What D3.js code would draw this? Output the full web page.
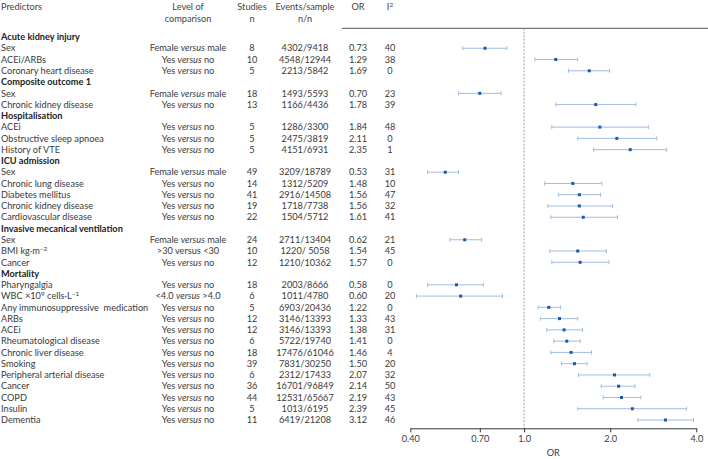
<!DOCTYPE html>
<html>
<head>
<meta charset="utf-8">
<script src="https://cdn.jsdelivr.net/npm/d3@7/dist/d3.min.js"></script>
<style>
  html, body { margin: 0; padding: 0; background: #fff; }
  svg text { font-family: Lato, "Open Sans", sans-serif; }
</style>
</head>
<body>
<svg id="chart" width="708" height="459"></svg>
<script>
// ---------------- DATA ----------------
const groupNames = ["Acute kidney injury", "Composite outcome 1", "Hospitalisation",
  "ICU admission", "Invasive mecanical ventilation", "Mortality"];
const groupSizes = [3, 2, 3, 5, 3, 13];

const predictors = [
  "Sex", "ACEi/ARBs", "Coronary heart disease",
  "Sex", "Chronic kidney disease",
  "ACEi", "Obstructive sleep apnoea", "History of VTE",
  "Sex", "Chronic lung disease", "Diabetes mellitus", "Chronic kidney disease", "Cardiovascular disease",
  "Sex", "BMI kg·m^−2", "Cancer",
  "Pharyngalgia", "WBC ×10^9 cells·L^−1", "Any immunosuppressive  medication", "ARBs", "ACEi",
  "Rheumatological disease", "Chronic liver disease", "Smoking", "Peripheral arterial disease",
  "Cancer", "COPD", "Insulin", "Dementia"
];
const comparisons = [
  "Female versus male", "Yes versus no", "Yes versus no",
  "Female versus male", "Yes versus no",
  "Yes versus no", "Yes versus no", "Yes versus no",
  "Female versus male", "Yes versus no", "Yes versus no", "Yes versus no", "Yes versus no",
  "Female versus male", ">30 versus <30", "Yes versus no",
  "Yes versus no", "<4.0 versus >4.0", "Yes versus no", "Yes versus no", "Yes versus no",
  "Yes versus no", "Yes versus no", "Yes versus no", "Yes versus no",
  "Yes versus no", "Yes versus no", "Yes versus no", "Yes versus no"
];
const studies = [8, 10, 5, 18, 13, 5, 5, 5, 49, 14, 41, 19, 22, 24, 10, 12,
  18, 6, 5, 12, 12, 6, 18, 39, 6, 36, 44, 5, 11];
const events = [
  "4302/9418", "4548/12944", "2213/5842",
  "1493/5593", "1166/4436",
  "1286/3300", "2475/3819", "4151/6931",
  "3209/18789", "1312/5209", "2916/14508", "1718/7738", "1504/5712",
  "2711/13404", "1220/ 5058", "1210/10362",
  "2003/8666", "1011/4780", "6903/20436", "3146/13393", "3146/13393",
  "5722/19740", "17476/61046", "7831/30250", "2312/17433",
  "16701/96849", "12531/65667", "1013/6195", "6419/21208"
];
const orValues = [0.73, 1.29, 1.69, 0.70, 1.78, 1.84, 2.11, 2.35,
  0.53, 1.48, 1.56, 1.56, 1.61, 0.62, 1.54, 1.57,
  0.58, 0.60, 1.22, 1.33, 1.38, 1.41, 1.46, 1.50, 2.07, 2.14, 2.19, 2.39, 3.12];
const orLabels = ["0.73", "1.29", "1.69", "0.70", "1.78", "1.84", "2.11", "2.35",
  "0.53", "1.48", "1.56", "1.56", "1.61", "0.62", "1.54", "1.57",
  "0.58", "0.60", "1.22", "1.33", "1.38", "1.41", "1.46", "1.50", "2.07", "2.14", "2.19", "2.39", "3.12"];
const ciLower = [0.61, 1.09, 1.43, 0.59, 1.29, 1.25, 1.54, 1.75,
  0.46, 1.18, 1.32, 1.21, 1.24, 0.55, 1.23, 1.25,
  0.46, 0.42, 1.12, 1.14, 1.20, 1.27, 1.24, 1.35, 1.55, 1.86, 1.89, 1.54, 2.50];
const ciUpper = [0.87, 1.54, 1.99, 0.83, 2.46, 2.72, 2.91, 3.15,
  0.59, 1.87, 1.85, 2.04, 2.12, 0.71, 1.94, 1.98,
  0.72, 0.84, 1.34, 1.54, 1.60, 1.57, 1.72, 1.66, 2.75, 2.44, 2.56, 3.70, 3.91];
const i2 = [40, 38, 0, 23, 39, 48, 0, 1, 31, 10, 47, 32, 41, 21, 45, 0,
  0, 20, 0, 43, 31, 0, 4, 20, 32, 50, 43, 45, 46];

const tickValues = [0.40, 0.70, 1.0, 2.0, 4.0];
const tickLabels = ["0.40", "0.70", "1.0", "2.0", "4.0"];

// ---------------- LAYOUT ----------------
const svg = d3.select("#chart");
const textColor = "#3a3a3a";
const fs = 9.2;

// build row list
const rows = [];
let k = 0;
groupNames.forEach((g, gi) => {
  rows.push({ type: "group", label: g });
  for (let j = 0; j < groupSizes[gi]; j++, k++) rows.push({ type: "data", i: k });
});

const y = d3.scalePoint().domain(d3.range(rows.length)).range([37, 420]);
const x = d3.scaleLog().domain([0.4, 4]).range([410.3, 696.3]);

const col = { comp: 188, studies: 252, events: 305, or: 358, i2: 390 };

// header
const hdr = svg.append("g").attr("fill", "#444").style("font-size", fs + "px");
function htext(tx, ty, t, anchor) {
  return hdr.append("text").attr("x", tx).attr("y", ty).attr("dy", "0.35em")
    .attr("text-anchor", anchor || "middle").text(t);
}
htext(1, 7, "Predictors", "start");
htext(col.comp, 7, "Level of");
htext(col.comp, 19, "comparison");
htext(col.studies, 7, "Studies");
htext(col.studies, 19, "n");
htext(col.events, 7, "Events/sample");
htext(col.events, 19, "n/n");
htext(col.or, 7, "OR");
const i2h = hdr.append("text").attr("x", col.i2).attr("y", 7).attr("dy", "0.35em").attr("text-anchor", "middle");
i2h.append("tspan").text("I");
i2h.append("tspan").attr("dy", -3).style("font-size", "6.5px").text("2");

svg.append("line").attr("x1", 342).attr("x2", 708).attr("y1", 28.3).attr("y2", 28.3)
  .attr("stroke", "#555").attr("stroke-width", 1);

// table
const tbl = svg.append("g").attr("fill", textColor).style("font-size", fs + "px");

function richLabel(sel, label) {
  const parts = label.split(/(\^\S+)/).filter(p => p.length);
  let shifted = false;
  parts.forEach(p => {
    if (p.startsWith("^")) {
      sel.append("tspan").attr("dy", -3).style("font-size", "6.5px").text(p.slice(1));
      shifted = true;
    } else {
      const t = sel.append("tspan").text(p);
      if (shifted) { t.attr("dy", 3); shifted = false; }
    }
  });
}
function compLabel(sel, label) {
  const parts = label.split(/(versus)/);
  parts.forEach(p => {
    const t = sel.append("tspan").text(p);
    if (p === "versus" && !label.startsWith(">30")) t.style("font-style", "italic");
  });
}

rows.forEach((r, ri) => {
  const yy = y(ri);
  if (r.type === "group") {
    tbl.append("text").attr("x", 1).attr("y", yy).attr("dy", "0.35em")
      .style("font-weight", "bold").attr("fill", "#222").text(r.label);
    return;
  }
  const i = r.i;
  richLabel(tbl.append("text").attr("x", 1).attr("y", yy).attr("dy", "0.35em")
    .style("white-space", "pre"), predictors[i]);
  compLabel(tbl.append("text").attr("x", col.comp).attr("y", yy).attr("dy", "0.35em")
    .attr("text-anchor", "middle"), comparisons[i]);
  tbl.append("text").attr("x", col.studies).attr("y", yy).attr("dy", "0.35em")
    .attr("text-anchor", "middle").text(studies[i]);
  tbl.append("text").attr("x", col.events).attr("y", yy).attr("dy", "0.35em")
    .attr("text-anchor", "middle").style("white-space", "pre").text(events[i]);
  tbl.append("text").attr("x", col.or).attr("y", yy).attr("dy", "0.35em")
    .attr("text-anchor", "middle").text(orLabels[i]);
  tbl.append("text").attr("x", col.i2).attr("y", yy).attr("dy", "0.35em")
    .attr("text-anchor", "middle").text(i2[i]);
});

// reference line at OR = 1
svg.append("line").attr("x1", x(1)).attr("x2", x(1)).attr("y1", 28.3).attr("y2", 428.3)
  .attr("stroke", "#8a8a8a").attr("stroke-width", 0.8).attr("stroke-dasharray", "2,1.5");

// CIs and points
const plot = svg.append("g");
const dataRows = rows.map((r, ri) => ({ r, ri })).filter(d => d.r.type === "data");
const ciColor = "#9dbde3";
const ptColor = "#1b5aa6";
plot.selectAll("line.ci").data(dataRows).join("line")
  .attr("x1", d => x(ciLower[d.r.i])).attr("x2", d => x(ciUpper[d.r.i]))
  .attr("y1", d => y(d.ri)).attr("y2", d => y(d.ri))
  .attr("stroke", ciColor).attr("stroke-width", 1);
plot.selectAll("line.capl").data(dataRows).join("line")
  .attr("x1", d => x(ciLower[d.r.i])).attr("x2", d => x(ciLower[d.r.i]))
  .attr("y1", d => y(d.ri) - 2).attr("y2", d => y(d.ri) + 2)
  .attr("stroke", ciColor).attr("stroke-width", 1);
plot.selectAll("line.capu").data(dataRows).join("line")
  .attr("x1", d => x(ciUpper[d.r.i])).attr("x2", d => x(ciUpper[d.r.i]))
  .attr("y1", d => y(d.ri) - 2).attr("y2", d => y(d.ri) + 2)
  .attr("stroke", ciColor).attr("stroke-width", 1);
plot.selectAll("rect.pt").data(dataRows).join("rect")
  .attr("x", d => x(orValues[d.r.i]) - 1.5).attr("y", d => y(d.ri) - 1.5)
  .attr("width", 3).attr("height", 3).attr("fill", ptColor);

// axis
const axis = d3.axisBottom(x).tickValues(tickValues)
  .tickFormat((d, i) => tickLabels[i]).tickSize(4).tickSizeOuter(0);
const ag = svg.append("g").attr("transform", "translate(0,428.3)").call(axis);
ag.select(".domain").attr("stroke", "#333").attr("stroke-width", 1);
ag.selectAll(".tick line").attr("stroke", "#333");
ag.selectAll(".tick text").attr("fill", textColor).style("font-size", fs + "px")
  .style("font-family", "Lato, 'Open Sans', sans-serif");

svg.append("text").attr("x", (x.range()[0] + x.range()[1]) / 2).attr("y", 452.7).attr("dy", "0.35em")
  .attr("text-anchor", "middle").attr("fill", textColor).style("font-size", fs + "px").text("OR");
</script>
</body>
</html>
